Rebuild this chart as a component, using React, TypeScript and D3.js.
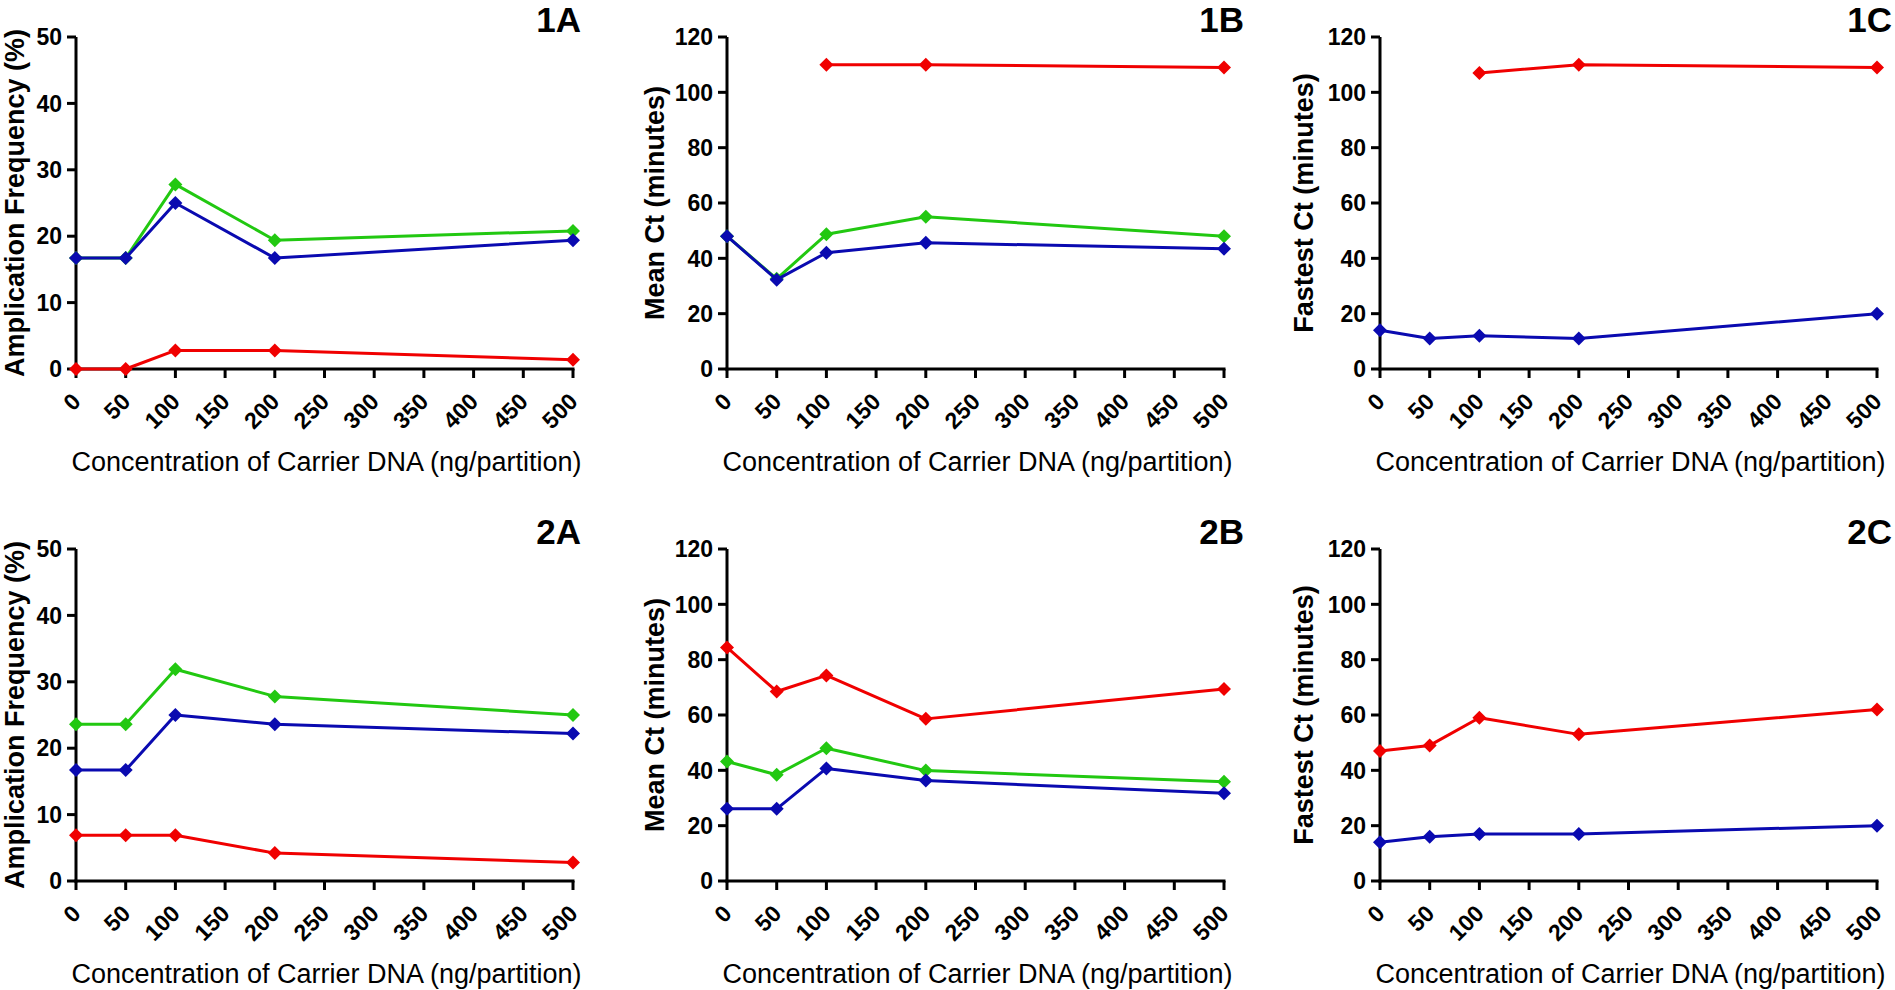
import React from "react";
import * as d3 from "d3";

const concentrations = [0, 50, 100, 200, 500];
const xTickValues = [0, 50, 100, 150, 200, 250, 300, 350, 400, 450, 500];

const freq1Red = [0, 0, 2.8, 2.8, 1.4];
const freq1Green = [16.7, 16.7, 27.8, 19.4, 20.8];
const freq1Blue = [16.7, 16.7, 25, 16.7, 19.4];

const mean1Red = [null, null, 110, 110, 109];
const mean1Green = [48, 32.6, 48.7, 55, 48];
const mean1Blue = [48, 32.3, 42, 45.6, 43.5];

const fast1Red = [null, null, 107, 110, 109];
const fast1Blue = [14, 11, 12, 11, 20];

const freq2Red = [6.9, 6.9, 6.9, 4.2, 2.8];
const freq2Green = [23.6, 23.6, 31.9, 27.8, 25];
const freq2Blue = [16.7, 16.7, 25, 23.6, 22.2];

const mean2Red = [84.4, 68.5, 74.3, 58.6, 69.4];
const mean2Green = [43.2, 38.4, 48, 39.9, 35.9];
const mean2Blue = [26.1, 26.1, 40.7, 36.3, 31.7];

const fast2Red = [47, 49, 59, 53, 62];
const fast2Blue = [14, 16, 17, 17, 20];

const freqTicks = [0, 10, 20, 30, 40, 50];
const ctTicks = [0, 20, 40, 60, 80, 100, 120];

const RED = "#f00000";
const GREEN = "#22c811";
const BLUE = "#0a0ab0";

const FONT = "'Liberation Sans', Arial, Helvetica, sans-serif";
const xTitle = "Concentration of Carrier DNA (ng/partition)";

type Series = { values: (number | null)[]; color: string };

type PanelProps = {
  left: number;
  right: number;
  top: number;
  bottom: number;
  yMax: number;
  yTicks: number[];
  yTitle: string;
  yTitleX: number;
  label: string;
  labelRight: number;
  series: Series[];
};

function Panel(p: PanelProps) {
  const x = d3.scaleLinear().domain([0, 500]).range([p.left, p.right]);
  const y = d3.scaleLinear().domain([0, p.yMax]).range([p.bottom, p.top]);
  const line = d3
    .line<[number, number | null]>()
    .defined((d) => d[1] !== null)
    .x((d) => x(d[0]))
    .y((d) => y(d[1] as number));
  const r = 7;
  const midY = (p.top + p.bottom) / 2;
  const midX = (p.left + p.right) / 2;
  return (
    <g>
      <line x1={p.left} x2={p.left} y1={p.top} y2={p.bottom + 1.5} stroke="#000" strokeWidth={3} />
      <line x1={p.left - 1.5} x2={p.right + 1.5} y1={p.bottom} y2={p.bottom} stroke="#000" strokeWidth={3} />
      {p.yTicks.map((t) => (
        <g key={"yt" + t}>
          <line x1={p.left - 9} x2={p.left} y1={y(t)} y2={y(t)} stroke="#000" strokeWidth={3} />
          <text
            x={p.left - 14}
            y={y(t)}
            dy="0.36em"
            textAnchor="end"
            fontFamily={FONT}
            fontWeight="bold"
            fontSize={23}
          >
            {t}
          </text>
        </g>
      ))}
      {xTickValues.map((t) => (
        <g key={"xt" + t}>
          <line x1={x(t)} x2={x(t)} y1={p.bottom} y2={p.bottom + 9} stroke="#000" strokeWidth={3} />
          <text
            transform={`translate(${x(t) + 6},${p.bottom + 34}) rotate(-45)`}
            textAnchor="end"
            fontFamily={FONT}
            fontWeight="bold"
            fontSize={23}
          >
            {t}
          </text>
        </g>
      ))}
      <text
        x={midX + 2}
        y={p.bottom + 102}
        textAnchor="middle"
        fontFamily={FONT}
        fontSize={27}
      >
        {xTitle}
      </text>
      <text
        transform={`translate(${p.yTitleX},${midY}) rotate(-90)`}
        textAnchor="middle"
        dy="0.36em"
        fontFamily={FONT}
        fontWeight="bold"
        fontSize={27}
      >
        {p.yTitle}
      </text>
      <text
        x={p.labelRight}
        y={p.top - 5}
        textAnchor="end"
        fontFamily={FONT}
        fontWeight="bold"
        fontSize={35}
      >
        {p.label}
      </text>
      {p.series.map((s, i) => {
        const pts = concentrations.map((c, j) => [c, s.values[j]] as [number, number | null]);
        return (
          <g key={"s" + i}>
            <path d={line(pts) || ""} fill="none" stroke={s.color} strokeWidth={3} strokeLinejoin="round" />
            {pts
              .filter((d) => d[1] !== null)
              .map((d, j) => {
                const cx = x(d[0]);
                const cy = y(d[1] as number);
                return (
                  <path
                    key={j}
                    d={`M${cx},${cy - r}L${cx + r},${cy}L${cx},${cy + r}L${cx - r},${cy}Z`}
                    fill={s.color}
                  />
                );
              })}
          </g>
        );
      })}
    </g>
  );
}

export default function App() {
  const cols = [
    { left: 76, right: 573, labelRight: 581 },
    { left: 727, right: 1224, labelRight: 1244 },
    { left: 1380, right: 1877, labelRight: 1892 },
  ];
  const rows = [
    { top: 37, bottom: 369 },
    { top: 549, bottom: 881 },
  ];
  return (
    <svg
      width={1895}
      height={990}
      style={{ position: "absolute", left: 0, top: 0, background: "#fff" }}
    >
      <rect width={1895} height={990} fill="#fff" />
      <Panel
        {...cols[0]}
        {...rows[0]}
        yMax={50}
        yTicks={freqTicks}
        yTitle="Amplication Frequency (%)"
        yTitleX={14}
        label="1A"
        series={[
          { values: freq1Red, color: RED },
          { values: freq1Green, color: GREEN },
          { values: freq1Blue, color: BLUE },
        ]}
      />
      <Panel
        {...cols[1]}
        {...rows[0]}
        yMax={120}
        yTicks={ctTicks}
        yTitle="Mean Ct (minutes)"
        yTitleX={654}
        label="1B"
        series={[
          { values: mean1Red, color: RED },
          { values: mean1Green, color: GREEN },
          { values: mean1Blue, color: BLUE },
        ]}
      />
      <Panel
        {...cols[2]}
        {...rows[0]}
        yMax={120}
        yTicks={ctTicks}
        yTitle="Fastest Ct (minutes)"
        yTitleX={1303}
        label="1C"
        series={[
          { values: fast1Red, color: RED },
          { values: fast1Blue, color: BLUE },
        ]}
      />
      <Panel
        {...cols[0]}
        {...rows[1]}
        yMax={50}
        yTicks={freqTicks}
        yTitle="Amplication Frequency (%)"
        yTitleX={14}
        label="2A"
        series={[
          { values: freq2Red, color: RED },
          { values: freq2Green, color: GREEN },
          { values: freq2Blue, color: BLUE },
        ]}
      />
      <Panel
        {...cols[1]}
        {...rows[1]}
        yMax={120}
        yTicks={ctTicks}
        yTitle="Mean Ct (minutes)"
        yTitleX={654}
        label="2B"
        series={[
          { values: mean2Red, color: RED },
          { values: mean2Green, color: GREEN },
          { values: mean2Blue, color: BLUE },
        ]}
      />
      <Panel
        {...cols[2]}
        {...rows[1]}
        yMax={120}
        yTicks={ctTicks}
        yTitle="Fastest Ct (minutes)"
        yTitleX={1303}
        label="2C"
        series={[
          { values: fast2Red, color: RED },
          { values: fast2Blue, color: BLUE },
        ]}
      />
    </svg>
  );
}
